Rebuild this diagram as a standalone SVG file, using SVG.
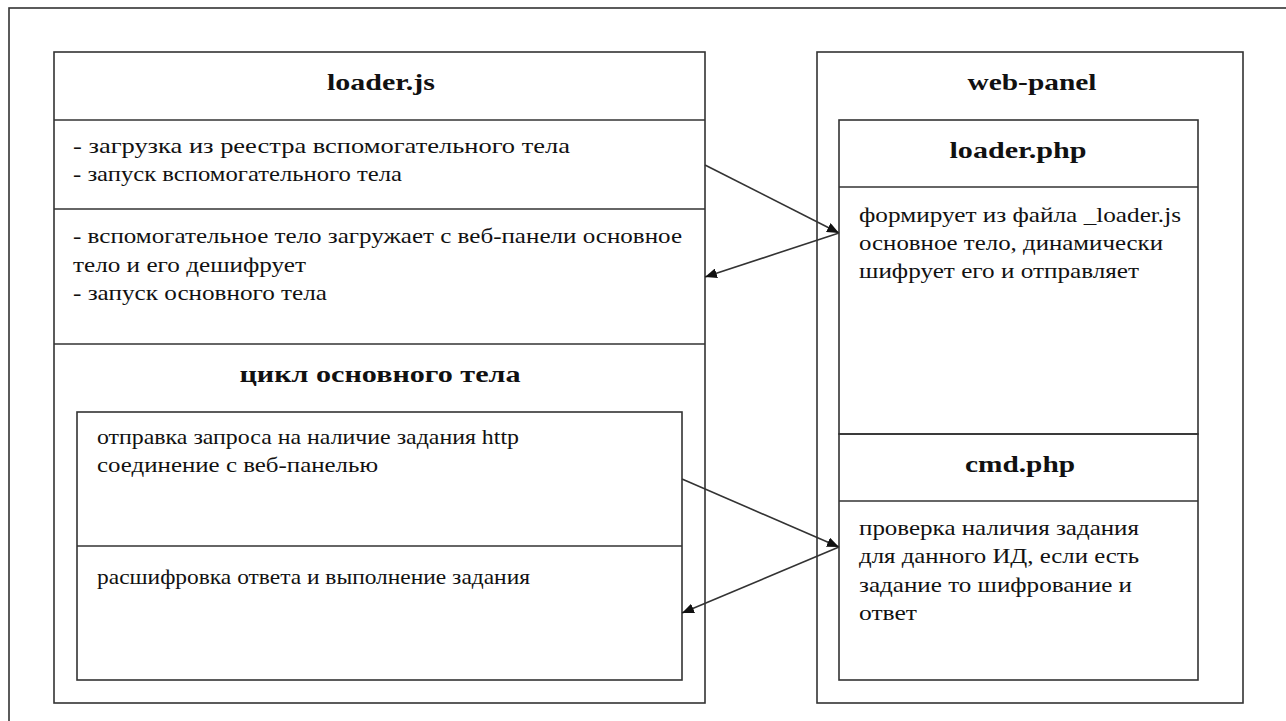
<svg xmlns="http://www.w3.org/2000/svg" width="1286" height="721" viewBox="0 0 1286 721">
<defs>
<style>
.box{fill:none;stroke:#333;stroke-width:1.6}
.ln{stroke:#333;stroke-width:1.6}
.t{font-family:"Liberation Serif","Times New Roman",serif;font-size:22px;fill:#111}
.h{font-family:"Liberation Serif","Times New Roman",serif;font-size:24px;font-weight:bold;fill:#111;text-anchor:middle}
.c{stroke:#333;stroke-width:1.6;fill:none;marker-end:url(#ah)}
</style>
<marker id="ah" viewBox="0 0 12 10" refX="12" refY="5" markerWidth="12" markerHeight="10" markerUnits="userSpaceOnUse" orient="auto">
<path d="M0,0 L12,5 L0,10 z" fill="#111"/>
</marker>
</defs>
<rect width="1286" height="721" fill="#fff"/>
<rect id="frame" class="box" x="9" y="8" width="1300" height="740"/>
<g id="loaderjs">
<rect class="box" x="54" y="52" width="651" height="651"/>
<text class="h" x="381" y="90" textLength="108" lengthAdjust="spacingAndGlyphs">loader.js</text>
<line class="ln" x1="54" y1="120" x2="705" y2="120"/>
<text class="t" x="73" y="153" textLength="497" lengthAdjust="spacingAndGlyphs">- загрузка из реестра вспомогательного тела</text>
<text class="t" x="73" y="181" textLength="329" lengthAdjust="spacingAndGlyphs">- запуск вспомогательного тела</text>
<line class="ln" x1="54" y1="209" x2="705" y2="209"/>
<text class="t" x="73" y="243" textLength="609" lengthAdjust="spacingAndGlyphs">- вспомогательное тело загружает с веб-панели основное</text>
<text class="t" x="73" y="272" textLength="233" lengthAdjust="spacingAndGlyphs">тело и его дешифрует</text>
<text class="t" x="73" y="300" textLength="254" lengthAdjust="spacingAndGlyphs">- запуск основного тела</text>
<line class="ln" x1="54" y1="344" x2="705" y2="344"/>
<text class="h" x="380" y="382" textLength="281" lengthAdjust="spacingAndGlyphs">цикл основного тела</text>
</g>
<g id="cycle">
<rect class="box" x="77" y="412" width="605" height="268"/>
<text class="t" x="97" y="444" textLength="422" lengthAdjust="spacingAndGlyphs">отправка запроса на наличие задания http</text>
<text class="t" x="97" y="472" textLength="281" lengthAdjust="spacingAndGlyphs">соединение с веб-панелью</text>
<line class="ln" x1="77" y1="546" x2="682" y2="546"/>
<text class="t" x="97" y="584" textLength="433" lengthAdjust="spacingAndGlyphs">расшифровка ответа и выполнение задания</text>
</g>
<g id="webpanel">
<rect class="box" x="817" y="52" width="426" height="651"/>
<text class="h" x="1032" y="90" textLength="129" lengthAdjust="spacingAndGlyphs">web-panel</text>
</g>
<g id="loaderphp">
<rect class="box" x="839" y="120" width="359" height="314"/>
<text class="h" x="1018" y="158" textLength="137" lengthAdjust="spacingAndGlyphs">loader.php</text>
<line class="ln" x1="839" y1="187" x2="1198" y2="187"/>
<text class="t" x="859" y="222" textLength="322" lengthAdjust="spacingAndGlyphs">формирует из файла _loader.js</text>
<text class="t" x="859" y="250" textLength="304" lengthAdjust="spacingAndGlyphs">основное тело, динамически</text>
<text class="t" x="859" y="278" textLength="280" lengthAdjust="spacingAndGlyphs">шифрует его и отправляет</text>
</g>
<g id="cmdphp">
<rect class="box" x="839" y="434" width="359" height="246"/>
<text class="h" x="1020" y="472" textLength="110" lengthAdjust="spacingAndGlyphs">cmd.php</text>
<line class="ln" x1="839" y1="501" x2="1198" y2="501"/>
<text class="t" x="859" y="535" textLength="280" lengthAdjust="spacingAndGlyphs">проверка наличия задания</text>
<text class="t" x="859" y="563" textLength="280" lengthAdjust="spacingAndGlyphs">для данного ИД, если есть</text>
<text class="t" x="859" y="592" textLength="273" lengthAdjust="spacingAndGlyphs">задание то шифрование и</text>
<text class="t" x="859" y="620" textLength="58" lengthAdjust="spacingAndGlyphs">ответ</text>
</g>
<g id="connectors">
<line class="c" x1="705" y1="165" x2="839" y2="233"/>
<line class="c" x1="839" y1="233" x2="705" y2="277"/>
<line class="c" x1="682" y1="479" x2="839" y2="547"/>
<line class="c" x1="839" y1="547" x2="682" y2="613"/>
</g>
</svg>
